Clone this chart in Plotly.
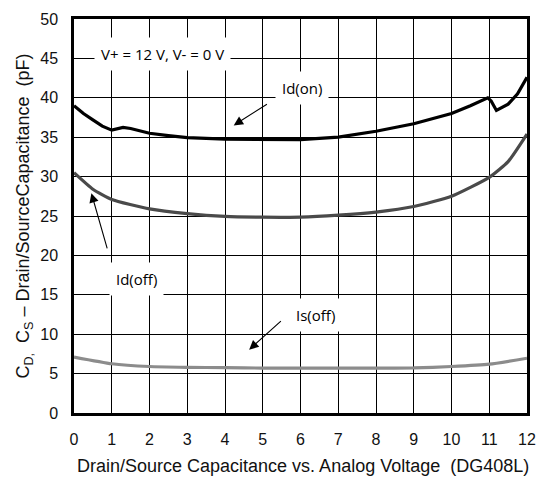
import plotly.graph_objects as go

x_on = [0, 0.25, 0.5, 0.75, 1.0, 1.1, 1.3, 1.5, 2, 2.5, 3, 4, 5, 6, 7, 8, 9, 10, 10.5, 10.96, 11.05, 11.19, 11.5, 11.75, 12]
y_on = [39.0, 38.0, 37.2, 36.4, 35.9, 36.0, 36.25, 36.1, 35.5, 35.2, 34.95, 34.75, 34.7, 34.7, 35.0, 35.75, 36.7, 38.0, 39.0, 40.0, 39.6, 38.4, 39.2, 40.5, 42.6]

x_doff = [0, 0.5, 1, 2, 3, 4, 5, 6, 7, 8, 9, 10, 11, 11.5, 12]
y_doff = [30.5, 28.4, 27.1, 25.9, 25.3, 24.95, 24.85, 24.85, 25.1, 25.5, 26.2, 27.5, 29.9, 31.9, 35.4]

x_soff = [0, 1, 2, 3, 4, 5, 6, 7, 8, 9, 10, 11, 12]
y_soff = [7.1, 6.25, 5.9, 5.8, 5.75, 5.7, 5.7, 5.7, 5.7, 5.72, 5.9, 6.2, 6.95]

x_ticks = list(range(0, 13))
y_ticks = list(range(0, 51, 5))

x_title = "Drain/Source Capacitance vs. Analog Voltage  (DG408L)"
y_title = "C<sub>D,</sub>  C<sub>S</sub> – Drain/SourceCapacitance  (pF)"

fig = go.Figure()
fig.add_trace(go.Scatter(x=x_doff, y=y_doff, mode="lines", line=dict(color="#4a4a4a", width=3.2, shape="spline", smoothing=0.5)))
fig.add_trace(go.Scatter(x=x_soff, y=y_soff, mode="lines", line=dict(color="#8c8c8c", width=3.2, shape="spline", smoothing=0.5)))
fig.add_trace(go.Scatter(x=x_on, y=y_on, mode="lines", line=dict(color="#000000", width=3.2)))

afont = dict(family="Open Sans", size=15, color="#000000")
anns = [
    dict(x=2.34, y=45.5, text="V+ = 12 V, V- = 0 V", showarrow=False, bgcolor="white", font=afont, borderpad=6),
    dict(x=6.05, y=41.3, text="Id(on)", showarrow=False, bgcolor="white", font=afont, borderpad=6),
    dict(x=1.66, y=17.0, text="Id(off)", showarrow=False, bgcolor="white", font=afont, borderpad=6),
    dict(x=6.4, y=12.5, text="Is(off)", showarrow=False, bgcolor="white", font=afont, borderpad=6),
    dict(x=0.505, y=-0.135, xref="paper", yref="paper", xanchor="center", yanchor="middle",
         text=x_title, showarrow=False, font=dict(family="Liberation Sans, Arial", size=18, color="#111111")),
]
arrows = [
    ((4.23, 36.5), (5.15, 39.3)),
    ((0.46, 27.9), (0.89, 20.7)),
    ((4.64, 8.04), (5.52, 11.83)),
]
for (hx, hy), (tx, ty) in arrows:
    anns.append(dict(x=hx, y=hy, ax=tx, ay=ty, xref="x", yref="y", axref="x", ayref="y",
                     text="", showarrow=True, arrowhead=2, arrowsize=1.7, arrowwidth=1.1, arrowcolor="black"))

fig.update_layout(
    width=547, height=478,
    margin=dict(l=74, r=11, t=13, b=65),
    paper_bgcolor="white", plot_bgcolor="white",
    showlegend=False,
    annotations=anns,
    font=dict(family="Liberation Sans, Arial", size=16, color="#111111"),
)
fig.update_xaxes(range=[0, 12], tickvals=x_ticks, showgrid=True, gridcolor="black", gridwidth=1.2,
                 showline=True, linecolor="black", linewidth=2.5, mirror=True, zeroline=False,
                 ticks="", tickfont=dict(size=16), ticklabelstandoff=10)
fig.update_yaxes(range=[0, 50], tickvals=y_ticks, showgrid=True, gridcolor="black", gridwidth=1.2,
                 showline=True, linecolor="black", linewidth=2.5, mirror=True, zeroline=False,
                 ticks="", tickfont=dict(size=16), ticklabelstandoff=10,
                 title=dict(text=y_title, font=dict(size=18), standoff=6))

fig.write_html("out.html", config={"displayModeBar": False},
               post_script="document.body.style.margin='0';document.body.style.overflow='hidden';document.documentElement.style.overflow='hidden';")
